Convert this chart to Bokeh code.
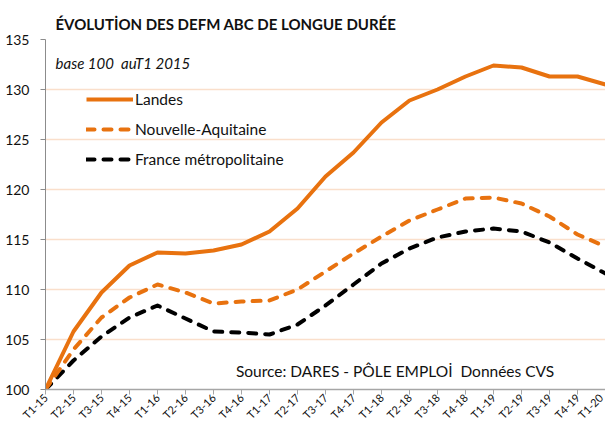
from math import pi
from bokeh.plotting import figure
from bokeh.models import Legend, LegendItem, Label, FixedTicker, Range1d
from bokeh.embed import file_html
from bokeh.resources import INLINE

quarters = ["T1-15", "T2-15", "T3-15", "T4-15", "T1-16", "T2-16", "T3-16", "T4-16",
            "T1-17", "T2-17", "T3-17", "T4-17", "T1-18", "T2-18", "T3-18", "T4-18",
            "T1-19", "T2-19", "T3-19", "T4-19", "T1-20"]
landes = [100.0, 105.8, 109.7, 112.4, 113.7, 113.6, 113.9, 114.5, 115.8, 118.1, 121.3,
          123.7, 126.7, 128.9, 130.0, 131.3, 132.4, 132.2, 131.3, 131.3, 130.5]
nouvelle_aquitaine = [100.0, 104.0, 107.2, 109.2, 110.5, 109.7, 108.6, 108.8, 108.9, 110.0, 111.8,
                      113.6, 115.3, 116.9, 118.0, 119.1, 119.2, 118.6, 117.3, 115.5, 114.3]
france_metro = [100.0, 102.9, 105.3, 107.2, 108.4, 107.1, 105.8, 105.7, 105.5, 106.5, 108.4,
                110.5, 112.6, 114.1, 115.2, 115.8, 116.1, 115.8, 114.7, 113.1, 111.6]
y_ticks = [100, 105, 110, 115, 120, 125, 130, 135]

ORANGE = "#E8720F"
FONT = "Lato"

x = list(range(len(quarters)))

p = figure(width=605, height=429, output_backend="svg", toolbar_location=None,
           x_range=Range1d(0, len(quarters) - 1), y_range=Range1d(100, 135),
           min_border_left=45, min_border_top=39, min_border_right=0, min_border_bottom=40)
p.outline_line_color = None
p.background_fill_color = "white"
p.border_fill_color = "white"

p.title.text = "ÉVOLUTİON DES DEFM ABC DE LONGUE DURÉE"
p.title.text_font = FONT
p.title.text_font_size = "15px"
p.title.text_font_style = "bold"
p.title.text_color = "#111111"
p.title.align = "left"
p.title.offset = 10
p.title.standoff = 14

p.xgrid.visible = False
p.ygrid.ticker = FixedTicker(ticks=y_ticks)
p.ygrid.grid_line_color = "#FADFCB"
p.ygrid.grid_line_width = 1.5

ya = p.yaxis[0]
ya.ticker = FixedTicker(ticks=y_ticks)
ya.axis_line_color = "#8C8C8C"
ya.major_tick_line_color = "#8C8C8C"
ya.major_tick_out = 5
ya.major_tick_in = 0
ya.minor_tick_line_color = None
ya.major_label_text_font = FONT
ya.major_label_text_font_size = "14px"
ya.major_label_text_color = "#111111"
ya.major_label_standoff = 11

xa = p.xaxis[0]
xa.ticker = FixedTicker(ticks=x)
xa.major_label_overrides = {i: q for i, q in zip(x, quarters)}
xa.major_label_orientation = pi / 4
xa.axis_line_color = "#A6A6A6"
xa.axis_line_width = 1.5
xa.major_tick_line_color = "#A6A6A6"
xa.major_tick_out = 5
xa.major_tick_in = 0
xa.minor_tick_line_color = None
xa.major_label_text_font = FONT
xa.major_label_text_font_size = "11px"
xa.major_label_text_color = "#111111"
xa.major_label_standoff = 1

r_fr = p.line(x, france_metro, line_color="black", line_width=4, line_dash="8 9",
              line_cap="round", line_join="round")
r_na = p.line(x, nouvelle_aquitaine, line_color=ORANGE, line_width=4, line_dash="8 9",
              line_cap="round", line_join="round")
r_la = p.line(x, landes, line_color=ORANGE, line_width=4, line_join="round")

legend = Legend(items=[LegendItem(label="Landes", renderers=[r_la]),
                       LegendItem(label="Nouvelle-Aquitaine", renderers=[r_na]),
                       LegendItem(label="France métropolitaine", renderers=[r_fr])],
                location=(41, 220), glyph_width=47, glyph_height=20, label_height=20,
                spacing=10, padding=0, margin=0, border_line_color=None,
                background_fill_alpha=0, label_standoff=2,
                label_text_font=FONT, label_text_font_size="15.5px", label_text_color="#111111")
p.add_layout(legend)

p.add_layout(Label(x=0.36, y=132.7, text="base 100\u00a0 auT1 2015", text_font=FONT,
                   text_font_style="italic", text_font_size="15px", text_baseline="middle",
                   text_color="#111111"))
p.add_layout(Label(x=6.8, y=101.9, text="Source: DARES - PÔLE EMPLOİ\u00a0 Données CVS", text_font=FONT,
                   text_font_size="15.5px", text_baseline="middle", text_color="#111111"))

open("out.html", "w").write(file_html(p, INLINE))
